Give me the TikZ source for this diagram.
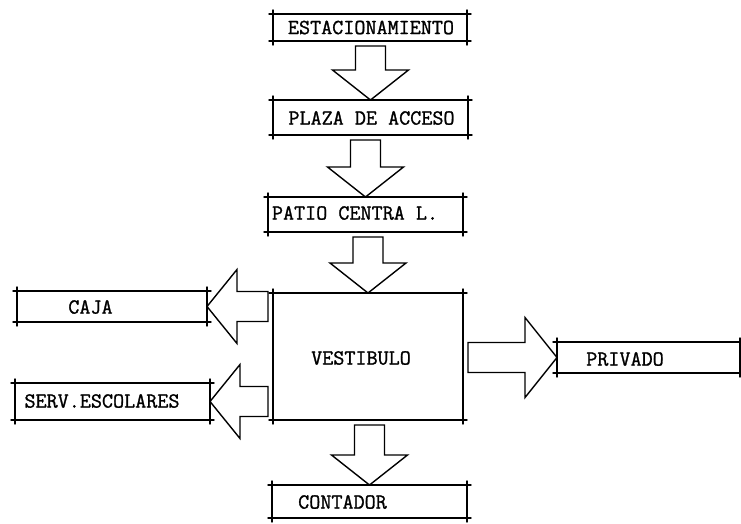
\documentclass[tikz,border=0pt]{standalone}
\usepackage{fontspec}
\newfontfamily\typew{Latin Modern Mono}[FakeBold=1.2]
\usetikzlibrary{calc}
\newcommand\tickbox[1]{%
 \draw[tick] (#1.north west) -- (#1.north east);
 \draw[tick] (#1.south west) -- (#1.south east);
 \draw[tick] (#1.north west) -- (#1.south west);
 \draw[tick] (#1.north east) -- (#1.south east);}
% block arrow pointing down, from node #1 to node #2
\newcommand\blkdown[2]{%
 \draw[blk] ($(#2.north |- #1.south)+(-15,5)$) -- ($(#2.north)+(-15,-30)$) -- ($(#2.north)+(-38,-30)$) -- (#2.north) -- ($(#2.north)+(38,-30)$) -- ($(#2.north)+(15,-30)$) -- ($(#2.north |- #1.south)+(15,5)$) -- cycle;}
% block arrow pointing left, from node #1 to node #2
\newcommand\blkleft[2]{%
 \draw[blk] ($(#1.west |- #2.east)+(-5,-15)$) -- ($(#2.east)+(30,-15)$) -- ($(#2.east)+(30,-37)$) -- (#2.east) -- ($(#2.east)+(30,37)$) -- ($(#2.east)+(30,15)$) -- ($(#1.west |- #2.east)+(-5,15)$) -- cycle;}
% block arrow pointing right, from node #1 to node #2
\newcommand\blkright[2]{%
 \draw[blk] ($(#1.east |- #2.west)+(5,-15)$) -- ($(#2.west)+(-32,-15)$) -- ($(#2.west)+(-32,-40)$) -- (#2.west) -- ($(#2.west)+(-32,40)$) -- ($(#2.west)+(-32,15)$) -- ($(#1.east |- #2.west)+(5,15)$) -- cycle;}
\begin{document}
\begin{tikzpicture}[x=1pt,y=-1pt,line width=1.4pt,
 box/.style={rectangle,inner sep=0pt,outer sep=0pt,draw=none},
 lbl/.style={font=\typew\fontsize{21.5}{21.5}\selectfont,inner sep=0pt},
 tick/.style={shorten <=-4pt,shorten >=-4pt,line cap=round},
 blk/.style={line join=miter}]
\fill[white] (0,0) rectangle (741,523);
\useasboundingbox (0,0) rectangle (741,523);
% boxes
\node[box,minimum width=194pt,minimum height=27pt] (est) at (370,27.5) {};
\node[box,minimum width=195pt,minimum height=35pt] (pla) at (370.5,117.5) {};
\node[box,minimum width=195pt,minimum height=35pt] (pat) at (365.5,214.5) {};
\node[box,minimum width=190pt,minimum height=127pt] (ves) at (368,356.5) {};
\node[box,minimum width=190pt,minimum height=31pt] (caj) at (112,306.5) {};
\node[box,minimum width=195pt,minimum height=37pt] (ser) at (112.5,401.5) {};
\node[box,minimum width=183pt,minimum height=31pt] (pri) at (648.5,357.5) {};
\node[box,minimum width=195pt,minimum height=33pt] (con) at (369.5,501.5) {};
\tickbox{est}\tickbox{pla}\tickbox{pat}\tickbox{ves}
\tickbox{caj}\tickbox{ser}\tickbox{pri}\tickbox{con}
% labels
\node[lbl] (test) at (371,27.5) {ESTACIONAMIENTO};
\node[lbl] (tpla) at (371.5,118) {PLAZA DE ACCESO};
\node[lbl] (tpat) at (355,213) {PATIO CENTRA L.};
\node[lbl] (tves) at (361,358) {VESTIBULO};
\node[lbl] (tcaj) at (90.5,307) {CAJA};
\node[lbl] (tser) at (102,401) {SERV.ESCOLARES};
\node[lbl] (tpri) at (625,359) {PRIVADO};
\node[lbl] (tcon) at (342.5,502) {CONTADOR};
% block arrows
\blkdown{est}{pla}
\blkdown{pla}{pat}
\blkdown{pat}{ves}
\blkdown{ves}{con}
\blkleft{ves}{caj}
\blkleft{ves}{ser}
\blkright{ves}{pri}
\end{tikzpicture}
\end{document}
